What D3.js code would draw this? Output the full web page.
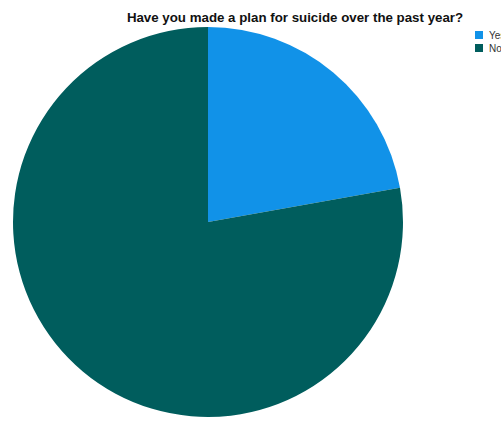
<!DOCTYPE html>
<html>
<head>
<meta charset="utf-8">
<script src="https://cdn.jsdelivr.net/npm/d3@7"></script>
<style>
  body { margin: 0; background: #fff; }
  svg { display: block; }
</style>
</head>
<body>
<svg width="501" height="421"></svg>
<script>
// pie data
var categories = ["Yes", "No"];
var values = [22.2, 77.8];
var colors = ["#1192e8", "#005d5d"];

var svg = d3.select("svg"),
    cx = 208, cy = 222, r = 195;

var color = d3.scaleOrdinal().domain(categories).range(colors);

var pie = d3.pie().sort(null).value(function(d) { return d.v; });
var arc = d3.arc().innerRadius(0).outerRadius(r);

var data = categories.map(function(c, i) { return {c: c, v: values[i]}; });

svg.append("g")
    .attr("transform", "translate(" + cx + "," + cy + ")")
  .selectAll("path")
  .data(pie(data))
  .enter().append("path")
    .attr("d", arc)
    .attr("fill", function(d) { return color(d.data.c); });

// title
svg.append("text")
    .attr("x", 295)
    .attr("y", 22)
    .attr("text-anchor", "middle")
    .style("font-family", "Liberation Sans, Arial, sans-serif")
    .style("font-weight", "bold")
    .style("font-size", "13.3px")
    .style("fill", "#111")
    .text("Have you made a plan for suicide over the past year?");

// legend
var legend = svg.selectAll(".lg")
  .data(categories)
  .enter().append("g")
    .attr("class", "lg")
    .attr("transform", function(d, i) { return "translate(475," + (31 + i * 13) + ")"; });

legend.append("rect")
    .attr("width", 8)
    .attr("height", 8)
    .attr("fill", function(d) { return color(d); });

legend.append("text")
    .attr("x", 14)
    .attr("y", 8)
    .style("font-family", "Liberation Sans, Arial, sans-serif")
    .style("font-size", "10px")
    .style("fill", "#333")
    .text(function(d) { return d; });
</script>
</body>
</html>
